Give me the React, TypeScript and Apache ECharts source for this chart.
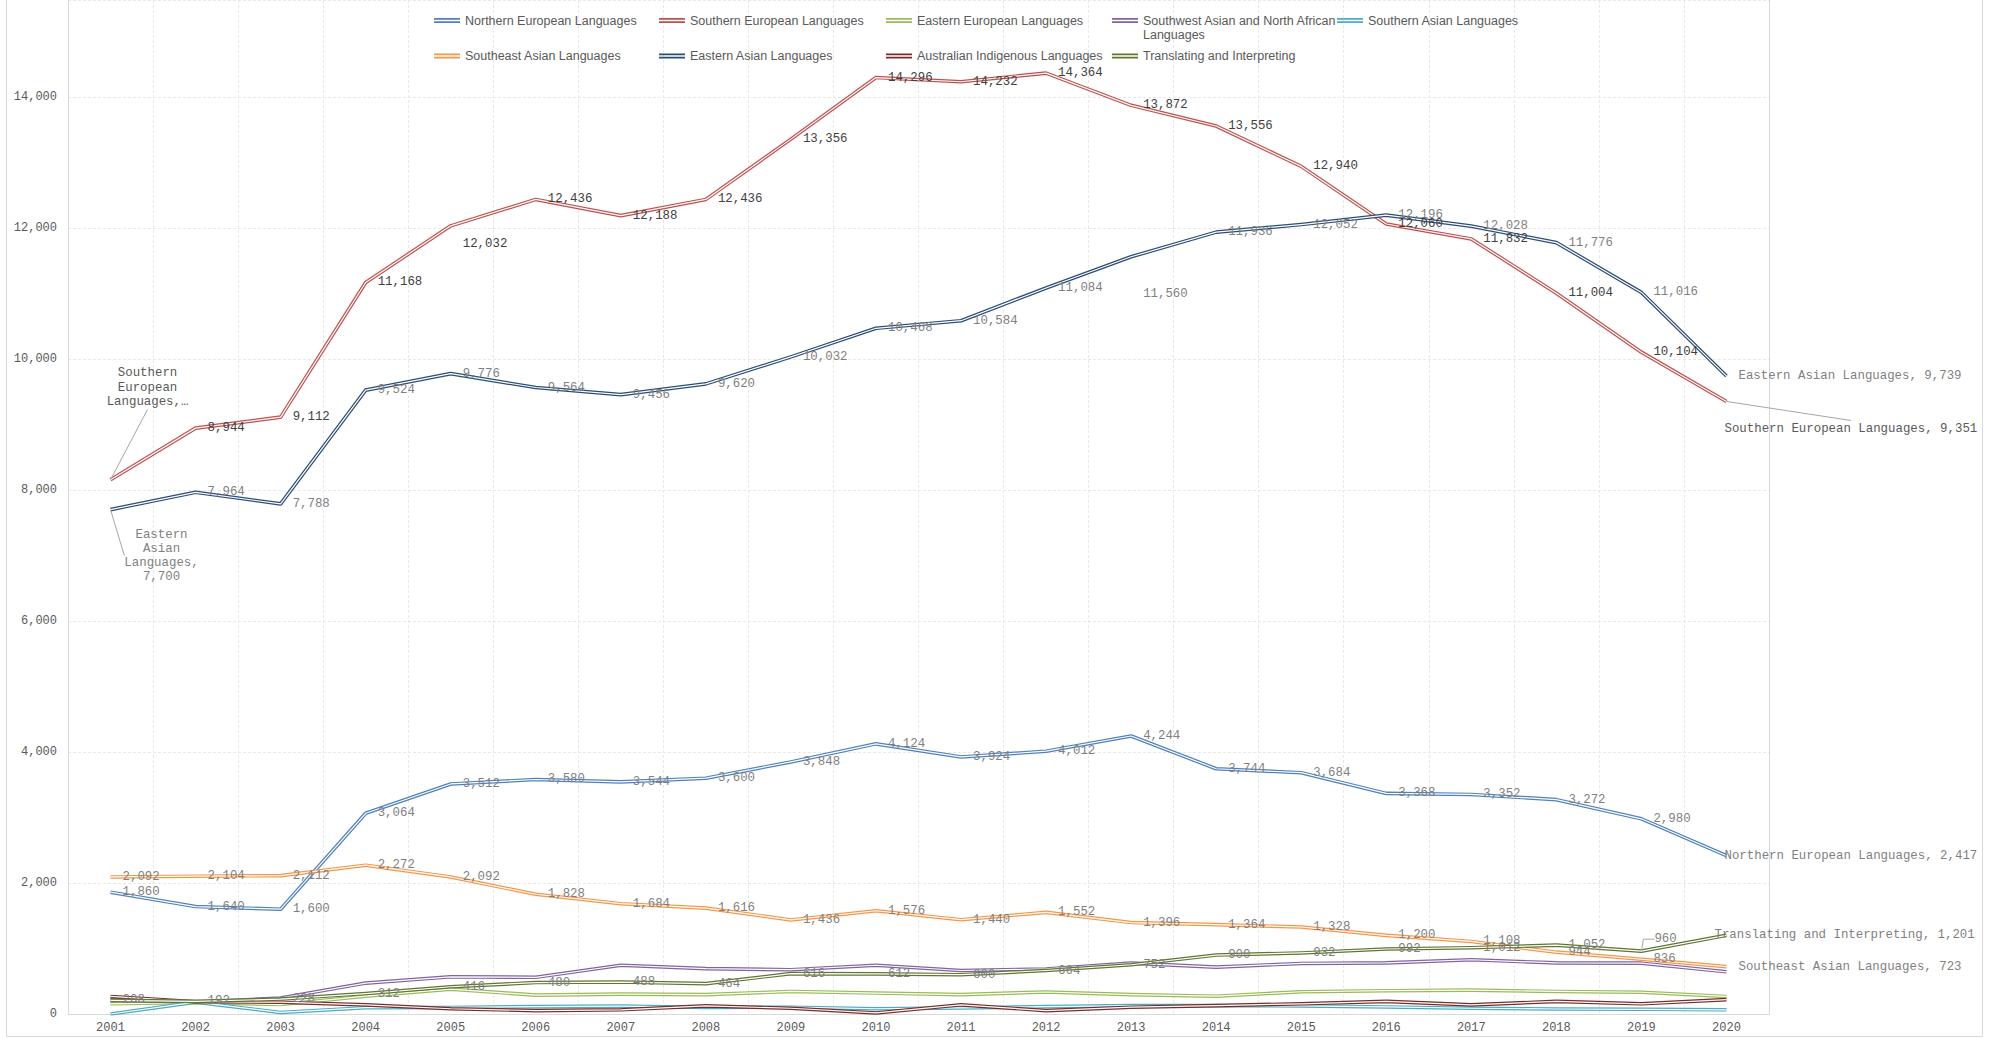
import React, { useEffect, useRef } from "react";
import * as echarts from "echarts";

const years = ["2001", "2002", "2003", "2004", "2005", "2006", "2007", "2008", "2009", "2010", "2011", "2012", "2013", "2014", "2015", "2016", "2017", "2018", "2019", "2020"];

const northernEuropean = [1860, 1640, 1600, 3064, 3512, 3580, 3544, 3600, 3848, 4124, 3924, 4012, 4244, 3744, 3684, 3368, 3352, 3272, 2980, 2417];
const southernEuropean = [8156, 8944, 9112, 11168, 12032, 12436, 12188, 12436, 13356, 14296, 14232, 14364, 13872, 13556, 12940, 12060, 11832, 11004, 10104, 9351];
const easternEuropean = [156, 176, 144, 272, 380, 288, 304, 296, 344, 320, 296, 336, 296, 272, 340, 356, 364, 344, 332, 268];
const southwestAsianNorthAfrican = [220, 180, 244, 472, 568, 560, 744, 692, 676, 744, 664, 688, 776, 716, 772, 780, 828, 780, 776, 644];
const southernAsian = [0, 180, 24, 96, 100, 112, 120, 100, 104, 80, 92, 112, 128, 128, 124, 108, 88, 76, 72, 64];
const southeastAsian = [2092, 2104, 2112, 2272, 2092, 1828, 1684, 1616, 1436, 1576, 1440, 1552, 1396, 1364, 1328, 1200, 1108, 944, 836, 723];
const easternAsian = [7700, 7964, 7788, 9524, 9776, 9564, 9456, 9620, 10032, 10468, 10584, 11084, 11560, 11936, 12052, 12196, 12028, 11776, 11016, 9739];
const australianIndigenous = [268, 188, 180, 140, 80, 52, 64, 124, 88, 16, 140, 52, 104, 128, 156, 192, 140, 192, 156, 220];
const translatingInterpreting = [208, 192, 228, 312, 416, 480, 488, 464, 616, 612, 600, 664, 752, 900, 932, 992, 1012, 1052, 960, 1201];

// axis: ticks every 2,000 from 0; the plot's top edge sits a little above 15,000
const yTicks = { min: 0, max: 15480, interval: 2000 };

const mono = "'Liberation Mono', 'Courier New', monospace";
const sans = "'Liberation Sans', Arial, sans-serif";
const labelFontSize = 12.4;
const fmt = (v: number) => Number(v).toLocaleString("en-US");

type Def = { name: string; data: number[]; color: string; labels: boolean; labelColor: string };

const defs: Def[] = [
  { name: "Northern European Languages", data: northernEuropean, color: "#4F81BD", labels: true, labelColor: "#7f7f7f" },
  { name: "Southern European Languages", data: southernEuropean, color: "#C0504D", labels: true, labelColor: "#404040" },
  { name: "Eastern European Languages", data: easternEuropean, color: "#9BBB59", labels: false, labelColor: "#7f7f7f" },
  { name: "Southwest Asian and North African Languages", data: southwestAsianNorthAfrican, color: "#8064A2", labels: false, labelColor: "#7f7f7f" },
  { name: "Southern Asian Languages", data: southernAsian, color: "#4BACC6", labels: false, labelColor: "#7f7f7f" },
  { name: "Southeast Asian Languages", data: southeastAsian, color: "#F79646", labels: true, labelColor: "#7f7f7f" },
  { name: "Eastern Asian Languages", data: easternAsian, color: "#2C4D75", labels: true, labelColor: "#7f7f7f" },
  { name: "Australian Indigenous Languages", data: australianIndigenous, color: "#772C2A", labels: false, labelColor: "#7f7f7f" },
  { name: "Translating and Interpreting", data: translatingInterpreting, color: "#5F7530", labels: true, labelColor: "#7f7f7f" },
];

const last = years.length - 1;
const endText = (d: Def) => `${d.name}, ${fmt(d.data[last])}`;

// label placement tweaks (style only): shift = [dx, dy] in px
const overrides: Record<string, Record<number, any>> = {
  "Northern European Languages": {
    [last]: { shift: [-14, 0], text: "end" },
  },
  "Southern European Languages": {
    0: { position: "inside", align: "center", verticalAlign: "middle", shift: [37, -92], lineHeight: 14.5, color: "#595959", text: "Southern\nEuropean\nLanguages,\u2026", guide: true },
    4: { shift: [0, 18] },
    [last]: { shift: [-14, 28], color: "#595959", text: "end" },
  },
  "Southeast Asian Languages": {
    [last]: { text: "end" },
  },
  "Eastern Asian Languages": {
    0: { position: "inside", align: "center", verticalAlign: "middle", shift: [51, 46], lineHeight: 14, color: "#808080", text: "Eastern\nAsian\nLanguages,\n" + fmt(easternAsian[0]), guide: true },
    12: { shift: [0, 37] },
    [last]: { text: "end" },
  },
  "Translating and Interpreting": {
    18: { shift: [1, -12], guide: true, length2: 11 },
    [last]: { shift: [-24, 0], text: "end" },
  },
};

const doubleIcon = "path://M0,0L26,0L26,1.7L0,1.7Z M0,3.3L26,3.3L26,5L0,5Z";
const legendCols = [434, 659, 886, 1112, 1337];

const frame = {
  type: "rect",
  silent: true,
  z: -1,
  shape: { x: 6.5, y: -2, width: 1976, height: 1038.5 },
  style: { fill: "none", stroke: "#d9d9d9", lineWidth: 1 },
};

function measure(text: string): number {
  const c = document.createElement("canvas").getContext("2d");
  if (!c) return text.length * labelFontSize * 0.6;
  c.font = `${labelFontSize}px 'Liberation Mono', monospace`;
  return c.measureText(text).width;
}

export default function App() {
  const ref = useRef<HTMLDivElement>(null);

  useEffect(() => {
    if (!ref.current) return;
    const chart = echarts.init(ref.current, null, { renderer: "svg" });

    const series: any[] = [];
    defs.forEach((d, i) => {
      series.push({
        name: d.name,
        type: "line",
        data: d.data,
        symbol: "none",
        z: 2,
        itemStyle: { color: d.color },
        lineStyle: { color: d.color, width: 3.6, join: "round" },
        emphasis: { disabled: true },
      });
      series.push({
        name: "__inner" + i,
        type: "line",
        data: d.data,
        symbol: "none",
        z: 2,
        silent: true,
        itemStyle: { color: "#ffffff" },
        lineStyle: { color: "#ffffff", width: 1.2, join: "round" },
        emphasis: { disabled: true },
      });
    });

    defs.forEach((d, i) => {
      if (!d.labels) return;
      const ov = overrides[d.name] || {};
      const items = d.data.map((v, idx) => {
        const o = ov[idx];
        if (!o) return v;
        const label: any = {};
        if (o.position) label.position = o.position;
        if (o.align) label.align = o.align;
        if (o.verticalAlign) label.verticalAlign = o.verticalAlign;
        if (o.lineHeight) label.lineHeight = o.lineHeight;
        if (o.color) label.color = o.color;
        if (o.text) label.formatter = o.text === "end" ? endText(d) : o.text;
        const item: any = { value: v, label };
        if (o.guide) item.labelLine = { show: true, length2: o.length2 || 0 };
        return item;
      });
      series.push({
        name: "__labels" + i,
        type: "line",
        data: items,
        z: 5,
        silent: true,
        symbol: "circle",
        symbolSize: 2,
        showSymbol: true,
        itemStyle: { color: "rgba(0,0,0,0)" },
        lineStyle: { width: 0, opacity: 0 },
        emphasis: { disabled: true },
        label: {
          show: true,
          position: "right",
          distance: 11,
          fontFamily: mono,
          fontSize: labelFontSize,
          color: d.labelColor,
          formatter: (p: any) => fmt(p.value),
        },
        labelLine: { show: false, lineStyle: { color: "#a6a6a6", width: 1 } },
        labelLayout: (params: any) => {
          const o = ov[params.dataIndex];
          if (!o || !o.shift) return {};
          return { dx: o.shift[0], dy: o.shift[1] };
        },
      });
    });

    const legends = defs.map((d, i) => {
      const col = i < 5 ? i : i - 5;
      const row = i < 5 ? 0 : 1;
      const isSW = d.name.startsWith("Southwest");
      return {
        data: [d.name],
        left: legendCols[col],
        top: row === 0 ? (isSW ? -0.5 : 13.5) : 49,
        padding: 0,
        icon: doubleIcon,
        itemWidth: 26,
        itemHeight: 5,
        selectedMode: false,
        itemStyle: { color: d.color, borderWidth: 0 },
        formatter: (n: string) => (n.startsWith("Southwest") ? " \nSouthwest Asian and North African\nLanguages" : n),
        textStyle: {
          fontFamily: sans,
          fontSize: 12.5,
          color: "#595959",
          lineHeight: 14,
        },
      };
    });

    const option: any = {
      animation: false,
      backgroundColor: "#ffffff",
      grid: { left: 68, right: 233, top: 0, bottom: 24, containLabel: false },
      legend: legends,
      xAxis: {
        type: "category",
        data: years,
        boundaryGap: true,
        axisLine: { show: true, lineStyle: { color: "#d9d9d9", width: 1 } },
        axisTick: { show: false },
        axisLabel: { interval: 0, fontFamily: mono, fontSize: 12, color: "#595959", margin: 8 },
        splitLine: { show: true, interval: 0, lineStyle: { color: "#e8e8e8", width: 1, type: [3, 2] } },
      },
      yAxis: [
        {
          type: "value",
          min: yTicks.min,
          max: yTicks.max,
          interval: yTicks.interval,
          axisLine: { show: true, lineStyle: { color: "#d9d9d9", width: 1 } },
          axisTick: { show: false },
          axisLabel: { showMaxLabel: false, fontFamily: mono, fontSize: 12, color: "#595959", margin: 11, formatter: (v: number) => fmt(v) },
          splitLine: { show: true, lineStyle: { color: "#e8e8e8", width: 1, type: [3, 2] } },
        },
        {
          type: "value",
          position: "right",
          min: yTicks.min,
          max: yTicks.max,
          interval: yTicks.interval,
          axisLine: { show: true, lineStyle: { color: "#d9d9d9", width: 1 } },
          axisTick: { show: false },
          axisLabel: { show: false },
          splitLine: { show: false },
        },
      ],
      graphic: [frame],
      series,
    };

    chart.setOption(option);

    // leader line of the Southern European end label, from the point (via the axes) to the label's top centre
    const sd = defs[1];
    const so = overrides[sd.name][last];
    const p = chart.convertToPixel({ xAxisIndex: 0, yAxisIndex: 0 }, [last, sd.data[last]]) as number[];
    if (p && isFinite(p[0]) && isFinite(p[1])) {
      const textLeft = p[0] + 1 + 11 + so.shift[0];
      const centerY = p[1] + so.shift[1];
      const w = measure(endText(sd));
      chart.setOption({
        graphic: [
          frame,
          {
            type: "line",
            silent: true,
            z: 6,
            shape: { x1: p[0], y1: p[1], x2: textLeft + w / 2, y2: centerY - 9 },
            style: { stroke: "#a6a6a6", lineWidth: 1 },
          },
        ],
      });
    }

    return () => chart.dispose();
  }, []);

  return (
    <div
      ref={ref}
      style={{ position: "fixed", left: 0, top: 0, width: 2002, height: 1038, background: "#ffffff" }}
    />
  );
}
